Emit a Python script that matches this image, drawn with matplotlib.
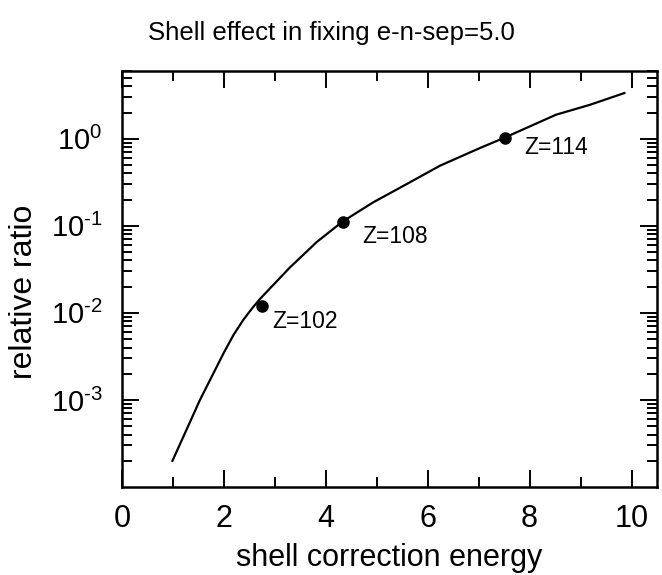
import matplotlib
matplotlib.use("Agg")
import matplotlib.pyplot as plt
from matplotlib.ticker import LogLocator, NullFormatter, FixedLocator

plt.rcParams["font.family"] = ["Liberation Sans", "DejaVu Sans"]
plt.rcParams["mathtext.fontset"] = "custom"
plt.rcParams["mathtext.rm"] = "Liberation Sans"
plt.rcParams["mathtext.it"] = "Liberation Sans"

# relative ratio vs shell correction energy
energy = [0.99, 1.27, 1.53, 1.79, 2.00, 2.19, 2.38, 2.55, 2.71, 3.29, 3.82,
          4.33, 4.93, 5.58, 6.24, 7.02, 7.51, 8.52, 9.18, 9.86]
ratio = [2.0e-4, 4.6e-4, 1.0e-3, 2.0e-3, 3.5e-3, 5.6e-3, 8.3e-3, 1.12e-2,
         1.45e-2, 3.3e-2, 6.5e-2, 0.112, 0.186, 0.30, 0.49, 0.78, 1.03,
         1.89, 2.45, 3.35]

# marked nuclei
z_energy = [2.74, 4.33, 7.51]
z_ratio = [0.012, 0.112, 1.03]
z_labels = ["Z=102", "Z=108", "Z=114"]
z_offsets = [(8, -11), (14, -11), (14, -7)]

xticks = [0, 2, 4, 6, 8, 10]
xtick_labels = ["0", "2", "4", "6", "8", "10"]
yticks = [1e-3, 1e-2, 1e-1, 1e0]
ytick_labels = [r"$10^{\text{-}3}$", r"$10^{\text{-}2}$",
                r"$10^{\text{-}1}$", r"$10^{0}$"]

fig = plt.figure(figsize=(6.62, 5.75), dpi=100)
ax = fig.add_axes([122 / 662, 88 / 575, 535 / 662, 416 / 575])

ax.plot(energy, ratio, color="black", linewidth=1.6)
ax.plot(z_energy, z_ratio, "o", color="black", markersize=8)
for x, y, lab, off in zip(z_energy, z_ratio, z_labels, z_offsets):
    ax.annotate(lab, (x, y), xytext=off, textcoords="offset points",
                ha="left", va="center", fontsize=16.5)

ax.set_yscale("log")
ax.set_xlim(0, 10.5)
ax.set_ylim(1e-4, 6)

ax.xaxis.set_major_locator(FixedLocator(xticks))
ax.set_xticklabels(xtick_labels)
ax.xaxis.set_minor_locator(FixedLocator([1, 3, 5, 7, 9]))
ax.yaxis.set_major_locator(FixedLocator(yticks))
ax.set_yticklabels(ytick_labels)
ax.yaxis.set_minor_locator(LogLocator(base=10, subs=range(2, 10), numticks=20))
ax.yaxis.set_minor_formatter(NullFormatter())

ax.tick_params(which="both", direction="in", top=True, right=True, width=1.4)
ax.tick_params(which="major", length=12)
ax.tick_params(which="minor", length=7)
ax.tick_params(axis="x", labelsize=22, pad=12)
ax.tick_params(axis="y", labelsize=21, pad=14)
for sp in ax.spines.values():
    sp.set_linewidth(1.8)

ax.set_xlabel("shell correction energy", fontsize=22)
ax.xaxis.set_label_coords(0.5, -0.135)
ax.set_ylabel("relative ratio", fontsize=23)
ax.yaxis.set_label_coords(-0.155, 0.47)

fig.text(0.5, 1 - 33 / 575, "Shell effect in fixing e-n-sep=5.0",
         ha="center", va="center", fontsize=18.5)

fig.savefig("out.png", dpi=100)
